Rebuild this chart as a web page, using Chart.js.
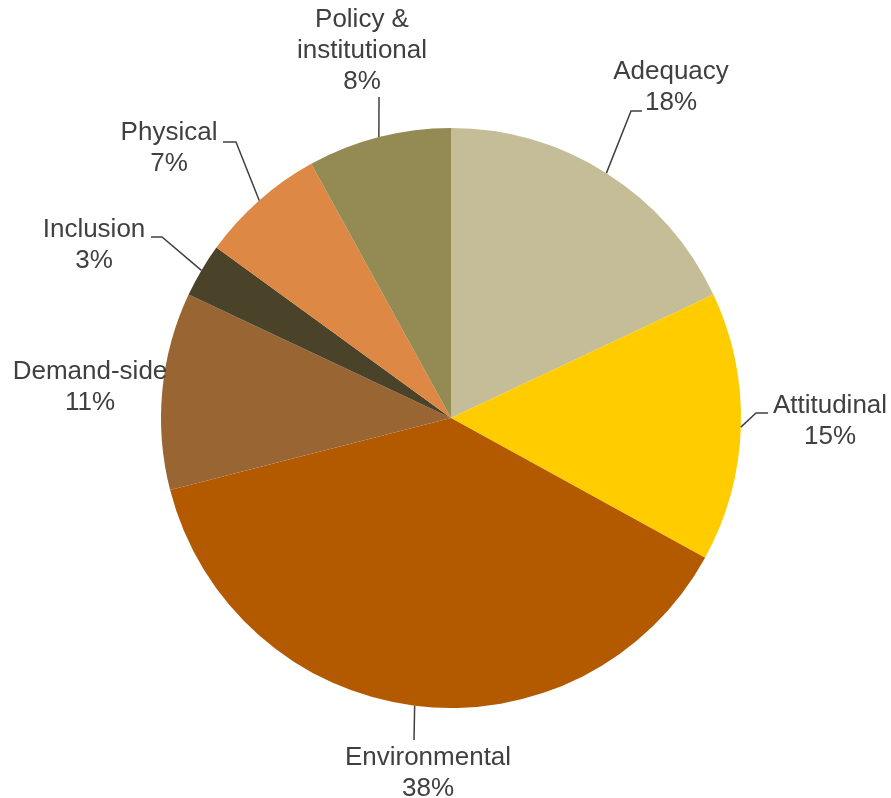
<!DOCTYPE html>
<html>
<head>
<meta charset="utf-8">
<script src="https://cdn.jsdelivr.net/npm/chart.js@4"></script>
<style>
  html, body { margin: 0; padding: 0; background: #fff; }
  #wrap { width: 891px; height: 798px; }
</style>
</head>
<body>
<div id="wrap"><canvas id="pieChart"></canvas></div>
<script>
// data
const categories = ['Adequacy', 'Attitudinal', 'Environmental', 'Demand-side', 'Inclusion', 'Physical', 'Policy & institutional'];
const shares = [18, 15, 38, 11, 3, 7, 8];
const sliceColors = ['#C4BD97', '#FFCC00', '#B35900', '#996633', '#4A4229', '#DD8844', '#948A54'];

// label layout (text lines, centre of first line, leader bend points)
const labelLines = [['Adequacy'], ['Attitudinal'], ['Environmental'], ['Demand-side'], ['Inclusion'], ['Physical'], ['Policy &', 'institutional']];
const labelPos = [[671, 72], [830, 406], [428, 758], [90, 372], [94, 230], [169, 133], [362, 20]];
const leaderPts = [
  [[631, 111], [642, 111]],
  [[756, 413], [768, 413]],
  [[414, 740]],
  null,
  [[162, 237], [151, 237]],
  [[236, 142], [223, 142]],
  [[379, 97]]
];

const pieLabels = {
  id: 'pieLabels',
  afterDraw(chart) {
    const ctx = chart.ctx;
    const meta = chart.getDatasetMeta(0);
    ctx.save();
    ctx.strokeStyle = '#404040';
    ctx.lineWidth = 1.5;
    meta.data.forEach((arc, i) => {
      const mid = (arc.startAngle + arc.endAngle) / 2;
      const sx = arc.x + Math.cos(mid) * arc.outerRadius;
      const sy = arc.y + Math.sin(mid) * arc.outerRadius;
      if (leaderPts[i]) {
        ctx.beginPath();
        ctx.moveTo(sx, sy);
        leaderPts[i].forEach(p => ctx.lineTo(p[0], p[1]));
        ctx.stroke();
      }
      ctx.fillStyle = '#404040';
      ctx.font = '26px "Liberation Sans", Arial, sans-serif';
      ctx.textAlign = 'center';
      ctx.textBaseline = 'middle';
      const lines = labelLines[i].concat([shares[i] + '%']);
      lines.forEach((t, k) => {
        ctx.fillText(t, labelPos[i][0], labelPos[i][1] + k * 31);
      });
    });
    ctx.restore();
  }
};

const ctx = document.getElementById('pieChart').getContext('2d');
const pieChart = new Chart(ctx, {
  type: 'pie',
  data: {
    labels: categories,
    datasets: [{
      data: shares,
      backgroundColor: sliceColors,
      borderWidth: 0
    }]
  },
  options: {
    responsive: true,
    maintainAspectRatio: false,
    animation: false,
    layout: {
      padding: { top: 128, bottom: 90, left: 161, right: 150 }
    },
    plugins: {
      legend: { display: false },
      tooltip: { enabled: false }
    }
  },
  plugins: [pieLabels]
});
</script>
</body>
</html>
